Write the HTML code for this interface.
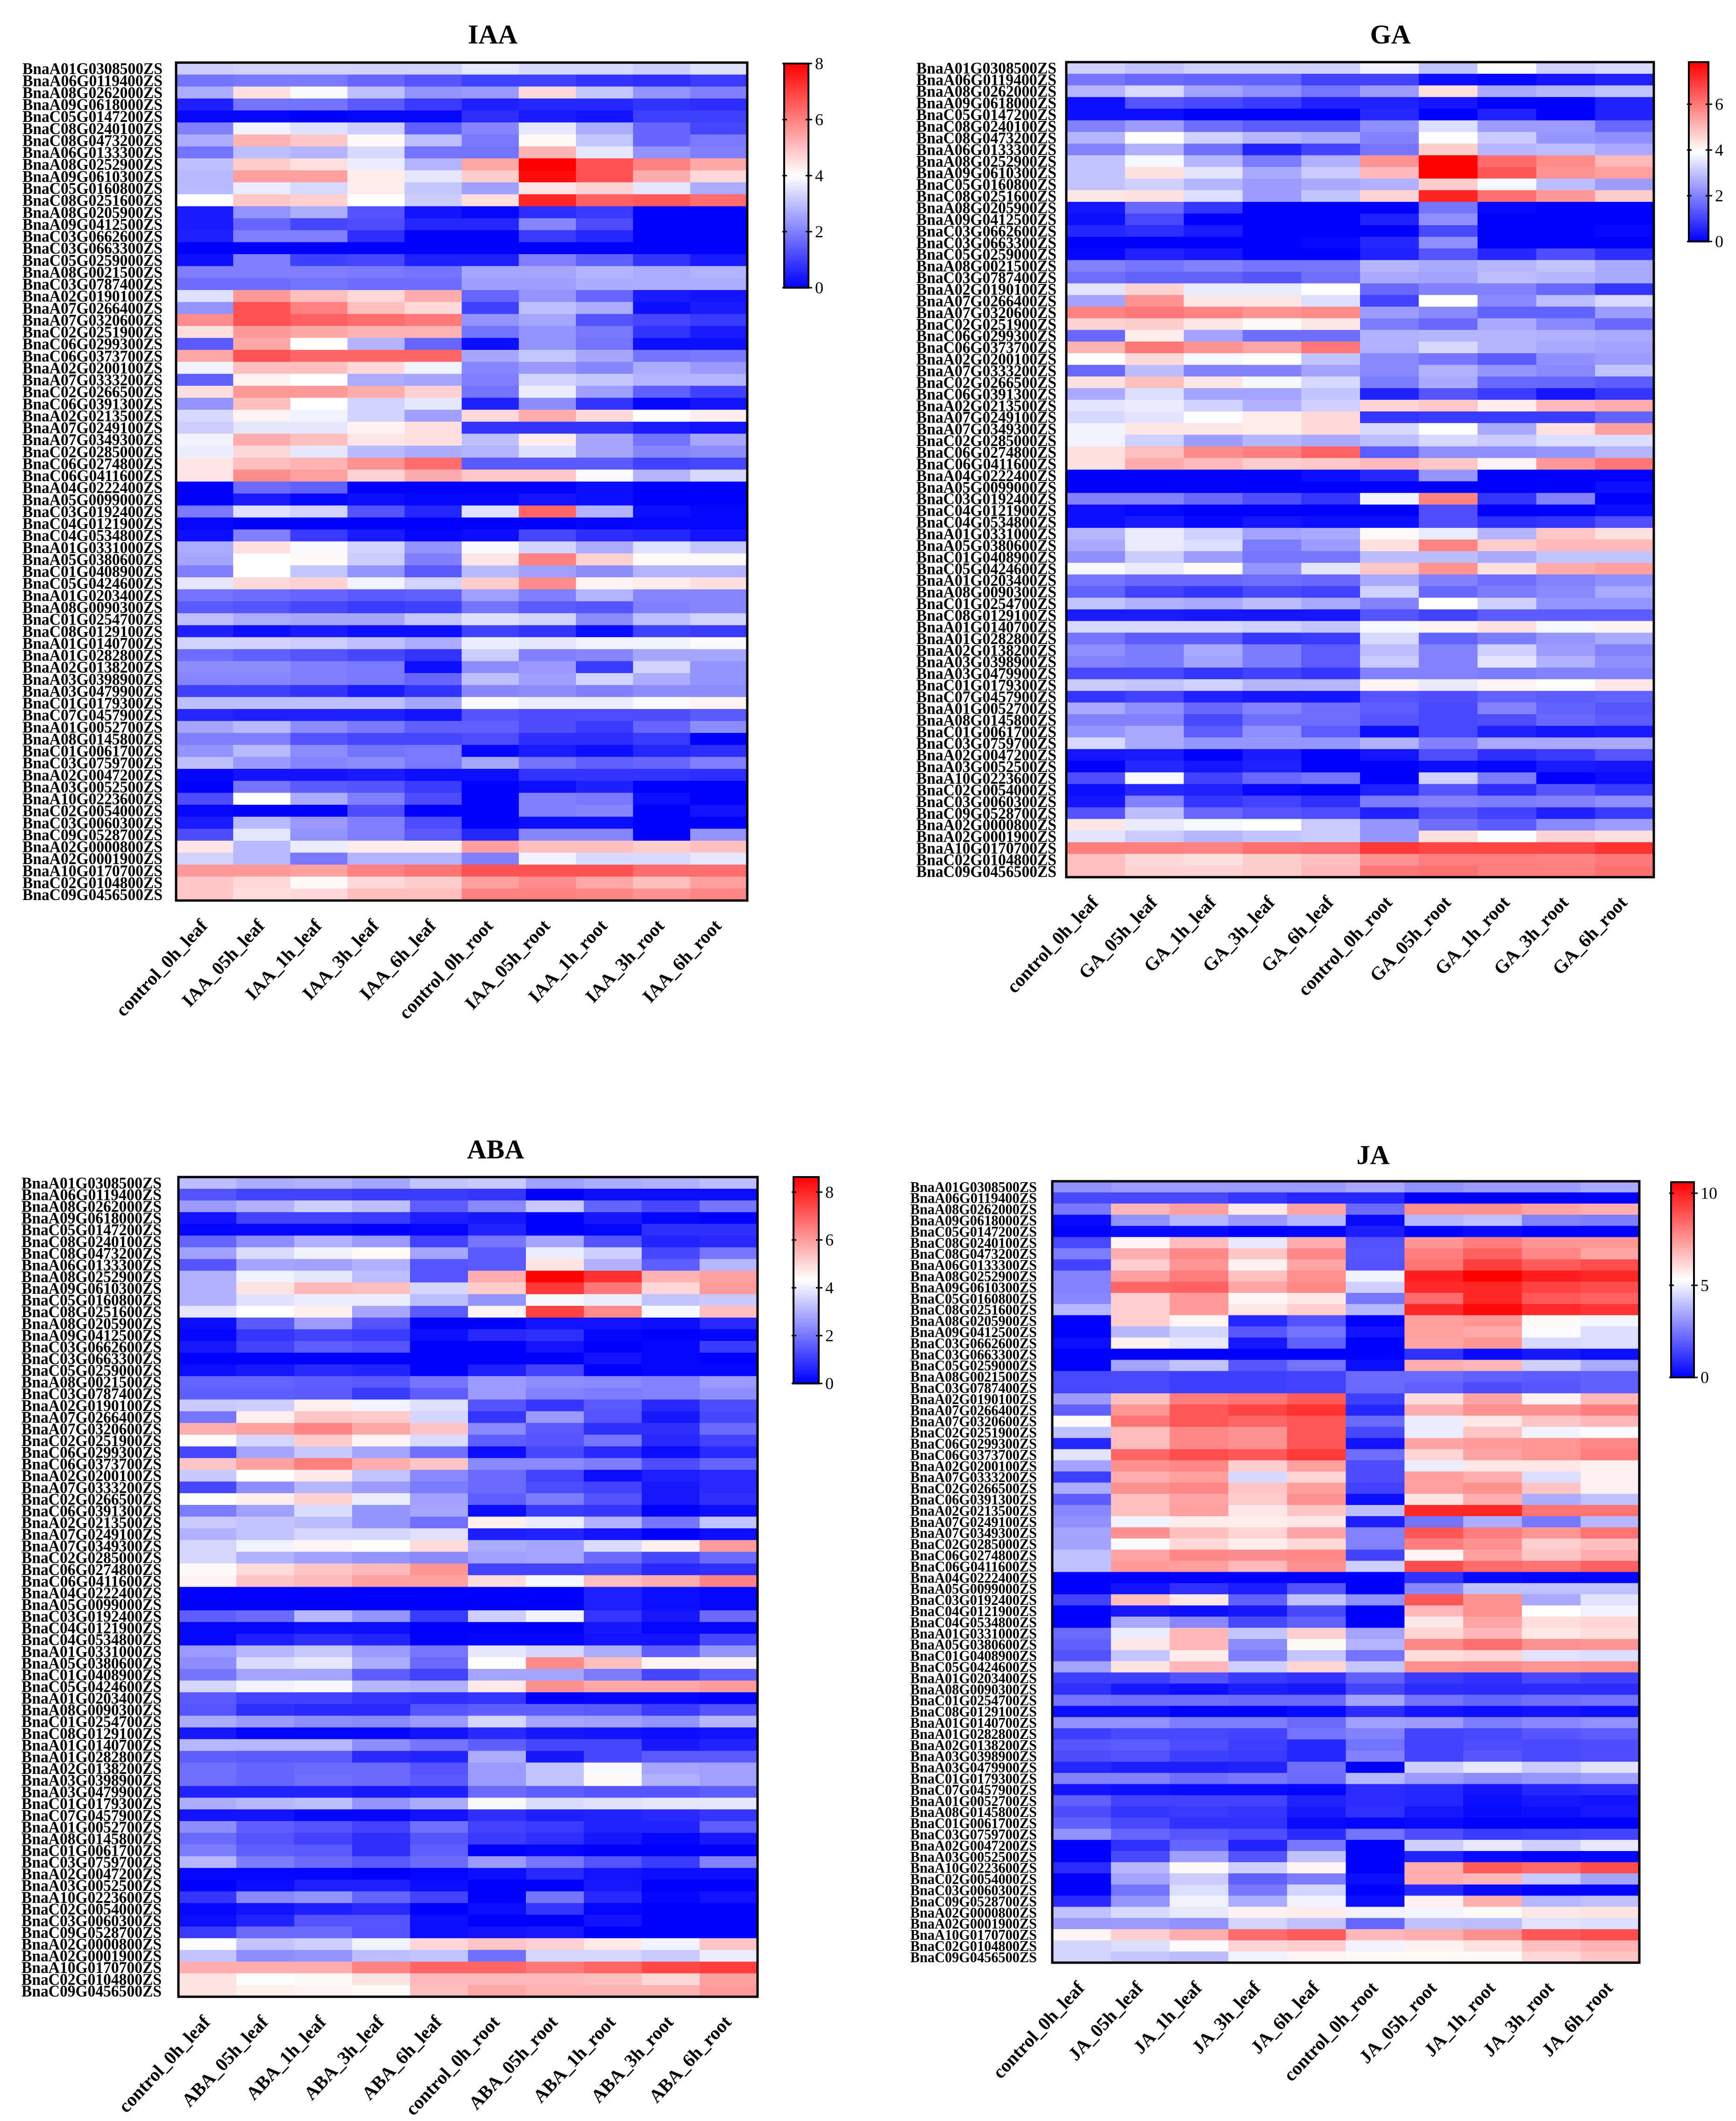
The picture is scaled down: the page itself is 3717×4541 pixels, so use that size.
<!DOCTYPE html>
<html><head><meta charset="utf-8"><style>html,body{margin:0;padding:0;background:#fff}svg{display:block}</style></head>
<body>
<svg id="chart" xmlns="http://www.w3.org/2000/svg" width="3717" height="4541" viewBox="0 0 3717 4541"><rect width="3717" height="4541" fill="#fff"/></svg>
<script>
const genes=["BnaA01G0308500ZS","BnaA06G0119400ZS","BnaA08G0262000ZS","BnaA09G0618000ZS","BnaC05G0147200ZS","BnaC08G0240100ZS","BnaC08G0473200ZS","BnaA06G0133300ZS","BnaA08G0252900ZS","BnaA09G0610300ZS","BnaC05G0160800ZS","BnaC08G0251600ZS","BnaA08G0205900ZS","BnaA09G0412500ZS","BnaC03G0662600ZS","BnaC03G0663300ZS","BnaC05G0259000ZS","BnaA08G0021500ZS","BnaC03G0787400ZS","BnaA02G0190100ZS","BnaA07G0266400ZS","BnaA07G0320600ZS","BnaC02G0251900ZS","BnaC06G0299300ZS","BnaC06G0373700ZS","BnaA02G0200100ZS","BnaA07G0333200ZS","BnaC02G0266500ZS","BnaC06G0391300ZS","BnaA02G0213500ZS","BnaA07G0249100ZS","BnaA07G0349300ZS","BnaC02G0285000ZS","BnaC06G0274800ZS","BnaC06G0411600ZS","BnaA04G0222400ZS","BnaA05G0099000ZS","BnaC03G0192400ZS","BnaC04G0121900ZS","BnaC04G0534800ZS","BnaA01G0331000ZS","BnaA05G0380600ZS","BnaC01G0408900ZS","BnaC05G0424600ZS","BnaA01G0203400ZS","BnaA08G0090300ZS","BnaC01G0254700ZS","BnaC08G0129100ZS","BnaA01G0140700ZS","BnaA01G0282800ZS","BnaA02G0138200ZS","BnaA03G0398900ZS","BnaA03G0479900ZS","BnaC01G0179300ZS","BnaC07G0457900ZS","BnaA01G0052700ZS","BnaA08G0145800ZS","BnaC01G0061700ZS","BnaC03G0759700ZS","BnaA02G0047200ZS","BnaA03G0052500ZS","BnaA10G0223600ZS","BnaC02G0054000ZS","BnaC03G0060300ZS","BnaC09G0528700ZS","BnaA02G0000800ZS","BnaA02G0001900ZS","BnaA10G0170700ZS","BnaC02G0104800ZS","BnaC09G0456500ZS"];
const iaaConds=["control_0h_leaf","IAA_05h_leaf","IAA_1h_leaf","IAA_3h_leaf","IAA_6h_leaf","control_0h_root","IAA_05h_root","IAA_1h_root","IAA_3h_root","IAA_6h_root"];
const gaConds=["control_0h_leaf","GA_05h_leaf","GA_1h_leaf","GA_3h_leaf","GA_6h_leaf","control_0h_root","GA_05h_root","GA_1h_root","GA_3h_root","GA_6h_root"];
const abaConds=["control_0h_leaf","ABA_05h_leaf","ABA_1h_leaf","ABA_3h_leaf","ABA_6h_leaf","control_0h_root","ABA_05h_root","ABA_1h_root","ABA_3h_root","ABA_6h_root"];
const jaConds=["control_0h_leaf","JA_05h_leaf","JA_1h_leaf","JA_3h_leaf","JA_6h_leaf","control_0h_root","JA_05h_root","JA_1h_root","JA_3h_root","JA_6h_root"];
const iaaTicks=[0,2,4,6,8];
const gaTicks=[0,2,4,6];
const abaTicks=[0,2,4,6,8];
const jaTicks=[0,5,10];
const iaaValues=[
[3.2,3.3,3.3,3.3,3.3,3.6,3.4,3.4,3.2,3.5],[1.8,1.9,1.9,1.6,1.3,1.0,1.0,0.8,0.7,0.9],[2.7,4.5,3.9,3.0,2.3,2.4,4.6,3.1,2.3,2.0],[0.5,1.8,1.8,1.4,0.9,0.5,0.6,0.6,0.8,0.7],[0.1,0.1,0,0.1,0.1,0.7,0.4,0.3,1.0,1.0],
[2.0,3.8,3.5,3.2,1.5,2.1,3.6,2.7,1.6,1.1],[2.7,5.2,4.9,4.1,3.0,1.9,4.1,3.1,1.6,1.9],[1.8,3.0,2.8,3.4,1.8,1.8,5.2,3.6,2.3,2.0],[3.0,4.8,4.5,3.7,2.8,5.4,8.0,6.7,6.0,5.4],[2.9,5.5,5.5,4.3,3.6,4.8,7.8,6.7,5.3,4.6],
[2.9,3.7,3.4,4.3,3.1,2.5,4.4,4.7,3.6,2.7],[4.0,4.9,4.7,4.0,3.2,4.5,7.4,6.5,6.6,6.3],[0.4,2.3,2.7,1.3,0.3,0.1,0.7,0.9,0,0],[0.4,1.6,1.1,1.2,0.6,0.6,2.1,1.2,0,0],[0.5,2.0,2.0,0.7,0,0,0.9,0.6,0,0],
[0,0,0,0,0,0,0,0,0,0],[0.2,2.0,1.0,1.1,0.5,0.5,2.0,1.5,0.8,0.4],[2.0,2.0,2.0,1.9,1.8,2.6,2.6,2.8,2.7,2.8],[1.7,1.7,1.8,1.7,1.7,2.5,2.5,2.7,2.7,2.7],[3.5,5.6,5.0,4.6,5.3,1.6,2.3,1.6,0.4,0.3],
[2.3,6.7,6.0,5.0,4.6,1.0,3.0,2.7,0.2,0.4],[5.8,6.7,6.5,6.3,6.1,2.3,2.6,1.3,1.1,0.9],[4.5,5.6,5.4,5.2,5.2,1.8,2.3,1.9,0.8,0.4],[1.4,5.4,4.0,2.8,1.6,0.2,2.3,1.8,0.2,0.2],[5.4,6.7,6.4,6.4,6.4,2.6,3.1,2.6,1.8,1.9],
[3.8,5.0,5.0,4.6,3.8,2.1,2.4,2.1,2.7,2.4],[1.5,4.2,4.0,2.7,2.6,2.0,3.3,3.1,2.8,2.8],[4.5,5.6,5.6,5.3,4.7,1.8,3.7,2.5,1.5,1.0],[2.3,5.0,4.0,3.3,3.6,0.5,2.2,0.8,0.1,0.3],[3.4,4.2,3.8,3.3,2.5,4.6,5.3,4.6,4.0,4.3],
[3.2,3.6,3.6,4.2,4.5,0.8,0.8,0.8,0.4,0.3],[3.8,5.3,5.0,4.4,4.5,3.0,4.3,2.6,1.8,2.6],[3.7,4.6,3.6,2.9,2.7,2.8,3.5,2.6,2.1,2.2],[4.4,5.0,5.2,5.7,6.3,1.4,1.4,1.4,1.0,1.1],[4.4,5.8,5.5,4.7,5.3,4.9,4.9,3.9,2.8,3.4],
[0,1.7,1.5,0,0,0,0,0.2,0,0],[0,0.4,0.1,0.2,0.1,0.1,0.3,0.2,0,0],[1.9,3.5,3.3,1.3,0.6,3.5,6.4,2.8,0.2,0.1],[0.1,0,0,0,0,0,0,0.1,0.1,0.1],[0.2,2.0,0.9,0.4,0.1,0.2,1.1,0.7,0.6,0.3],
[2.7,4.5,3.9,3.3,2.3,3.9,3.3,2.7,3.5,3.1],[2.6,4.0,4.1,3.2,2.0,4.4,6.0,4.7,4.1,4.1],[2.0,4.0,3.1,2.3,1.4,2.9,2.5,2.2,2.8,2.8],[3.6,4.6,4.7,3.8,3.3,4.8,5.8,4.2,4.3,4.5],[1.8,1.7,1.6,1.4,1.5,2.5,2.0,2.8,2.1,2.1],
[1.4,1.3,1.1,0.9,1.0,1.8,1.4,1.3,2.0,2.1],[3.0,2.7,2.6,2.6,3.1,3.5,3.3,2.2,3.0,3.3],[0.5,0.2,0.4,0.2,0.2,1.0,0.8,0.2,1.0,0.9],[3.3,3.3,3.2,3.0,2.7,3.7,3.6,3.8,3.8,3.9],[1.7,1.5,1.3,1.1,0.8,3.2,2.0,2.1,2.6,2.6],
[2.2,2.2,2.0,1.9,0.2,2.2,2.4,0.9,3.3,2.3],[2.1,2.1,2.0,1.9,1.6,3.0,2.5,3.3,2.7,2.3],[1.0,1.0,0.8,0.4,0.8,2.1,2.2,2.0,2.2,2.2],[3.0,3.0,3.0,3.0,2.6,3.9,3.7,3.7,3.9,4.2],[0.6,0.5,0.5,0.5,0.3,1.3,1.2,1.2,1.2,1.4],
[2.6,2.9,2.2,1.9,1.5,1.5,1.2,0.9,1.6,2.2],[2.0,2.0,1.3,1.1,1.1,1.2,0.7,0.7,0.9,0],[2.3,2.9,2.2,1.8,1.9,0.1,0.4,0.2,0.6,0.7],[3.0,2.4,2.1,2.2,1.9,2.6,1.8,1.5,1.6,2.0],[0.1,0.3,0.3,0.4,0.2,0.2,0.8,0.8,0.8,0.7],
[0,1.8,1.4,1.3,0.9,0,0.2,0.5,0,0],[1.2,4.0,2.7,2.0,1.2,0,2.0,1.9,0.2,0],[0.1,0,0,1.2,0,0,2.0,2.1,0,0.3],[0.4,2.9,2.4,2.0,1.2,0,0.2,0.2,0,0],[1.2,3.6,2.3,2.0,1.4,0.6,2.1,2.1,0,2.3],
[4.4,2.9,3.7,4.3,4.3,5.5,5.0,5.0,4.8,5.0],[3.3,2.9,1.9,2.8,2.8,2.0,3.8,3.4,3.4,3.6],[5.6,5.6,5.5,6.0,6.2,6.7,6.7,6.7,6.3,6.3],[4.9,4.6,4.1,4.6,4.8,5.5,5.8,5.4,5.0,5.5],[4.9,4.5,4.6,5.0,5.0,6.0,6.0,5.9,5.7,5.9]];
const gaValues=[
[3.2,3.0,3.2,3.2,3.2,3.7,3.0,3.9,3.2,3.3],[1.8,1.6,1.5,1.5,1.0,1.0,0.2,0.1,0.3,0.5],[2.8,3.3,2.5,2.2,1.8,2.4,4.4,2.6,2.8,3.0],[0.2,1.3,1.1,0.9,0.5,0.5,0.3,0,0,0.5],[0.2,0.2,0,0,0,0.6,0,0.5,0,0.5],
[2.0,2.4,1.7,1.4,1.4,2.2,3.4,2.4,2.4,1.6],[2.8,3.9,3.2,2.8,2.6,2.0,3.9,3.1,2.3,2.2],[2.0,2.7,1.7,0.5,1.0,1.8,4.7,2.8,2.9,2.6],[3.0,3.8,2.8,1.9,2.7,5.6,7.8,6.2,5.7,5.0],[3.0,4.4,3.5,2.6,3.1,5.0,7.8,6.5,5.6,5.4],
[3.0,3.2,2.8,2.4,2.6,2.7,4.7,3.8,2.9,2.4],[4.3,4.4,3.4,2.4,3.0,4.6,7.3,6.1,5.5,4.7],[0.3,1.6,0.8,0,0,0,1.8,0.1,0,0],[0.2,1.1,0,0,0,0.5,2.2,0,0,0],[0.6,0.7,0.4,0,0,0,1.1,0,0,0.1],
[0,0,0,0,0.1,0.6,2.2,0,0,0],[0.1,0.5,0.3,0,0,0.5,1.3,0.6,1.2,0.7],[2.0,1.8,2.0,1.8,1.8,2.8,2.6,2.8,3.0,2.6],[1.7,1.5,1.5,1.3,1.7,2.6,2.5,2.9,2.8,2.6],[3.5,4.6,3.6,3.6,3.9,1.6,2.0,2.0,1.6,0.8],
[2.5,5.6,4.3,4.3,3.4,1.0,3.9,2.1,2.9,3.3],[5.8,6.0,5.8,5.6,5.7,2.4,2.1,1.5,1.5,2.4],[4.6,4.7,4.3,4.0,4.3,1.9,1.6,2.6,2.1,1.6],[1.6,4.2,2.5,1.7,1.7,2.7,2.8,2.8,2.7,2.6],[5.1,6.0,5.6,5.3,6.0,2.7,3.3,2.8,2.6,2.5],
[3.9,4.5,3.8,3.9,3.0,2.1,1.8,1.4,2.2,2.4],[1.6,2.9,2.0,2.0,2.5,2.1,2.7,2.3,2.1,3.0],[4.4,4.9,4.3,3.8,3.3,1.9,2.6,1.6,1.6,1.4],[2.6,3.4,2.5,2.5,3.0,0.5,1.3,0.9,0.3,0.8],[3.5,3.6,3.2,2.7,3.2,4.6,4.8,4.2,5.0,5.2],
[3.3,3.5,3.9,4.2,4.5,0.8,0.9,0.9,0.9,1.5],[3.7,4.3,4.3,4.2,4.5,3.3,3.9,2.6,4.4,5.4],[3.7,3.2,2.4,2.8,2.6,2.9,3.3,3.1,3.4,3.4],[4.4,4.9,5.7,5.9,6.3,1.4,2.2,2.2,2.3,2.8],[4.4,5.2,5.0,4.7,4.8,5.0,4.8,4.1,5.5,6.0],
[0,0,0,0,0.2,0.6,2.3,0,0,0],[0,0,0,0,0,0,0,0,0,0.2],[2.0,2.0,1.6,1.2,0.8,3.7,5.8,0.8,2.0,0],[0.2,0.1,0,0,0,0,1.2,0,0,0.2],[0.2,0.4,0.1,0.3,0.2,0.2,1.2,0.7,0.8,1.2],
[2.8,3.6,3.2,2.5,2.6,4.0,3.6,2.8,4.8,4.4],[2.6,3.6,3.4,1.9,2.4,4.4,5.8,4.7,5.0,5.0],[2.2,3.1,2.4,1.8,1.8,2.9,2.9,2.6,3.0,3.0],[3.8,3.6,4.0,2.3,3.5,4.8,5.6,4.4,5.2,5.4],[1.8,1.6,1.6,1.7,1.6,2.6,2.0,1.7,2.0,2.2],
[1.5,1.0,0.8,1.1,1.0,3.2,1.6,1.9,2.1,2.6],[3.0,2.7,2.6,2.9,2.6,2.0,3.9,3.2,2.3,2.3],[0.4,0.4,0.3,0.3,0.3,1.3,1.0,1.4,1.4,1.4],[3.3,3.3,3.3,3.2,3.0,3.8,4.1,4.4,3.8,4.1],[1.8,1.4,1.4,0.8,0.9,3.3,1.5,1.9,2.3,2.6],
[2.2,1.9,2.6,1.9,1.4,2.9,2.0,3.2,2.4,2.0],[2.0,1.9,2.5,1.9,1.4,3.1,2.0,3.5,2.7,2.2],[1.1,1.1,0.8,1.0,0.8,2.0,2.0,1.9,2.0,2.0],[3.1,3.0,3.2,2.8,2.8,4.1,3.6,4.1,3.9,4.3],[0.8,1.0,0.5,0.3,0.3,1.3,1.2,1.5,1.4,1.5],
[2.6,2.2,1.6,2.0,1.7,1.4,1.1,2.0,1.5,1.3],[2.0,2.0,1.1,1.7,1.7,1.3,1.1,1.2,1.6,1.4],[2.3,2.6,1.4,2.2,1.4,0.2,1.1,0.5,0.3,0.4],[3.3,2.6,2.3,2.3,2.3,2.7,2.0,2.6,2.6,2.6],[0.3,0.4,0,0.4,0,0.3,1.2,0.7,0.9,1.3],
[0,0.6,0.3,0.5,0,0,0.2,0.1,0.4,0.3],[1.2,3.8,1.0,1.6,1.8,0,3.2,1.9,0,0.2],[0.2,0.6,0.5,0.1,0,0.5,1.3,0.7,1.3,0.9],[0.3,2.0,0.8,1.0,0.7,1.9,2.0,1.9,2.0,2.2],[1.3,2.9,1.6,1.3,1.2,0.5,1.3,1.0,0.5,0.9],
[4.3,3.6,3.8,3.9,3.1,2.3,1.7,1.4,2.1,2.4],[3.5,3.1,2.8,3.0,3.1,2.3,4.4,3.9,4.6,4.4],[5.9,5.9,5.8,6.1,6.2,7.0,6.8,6.8,6.8,7.1],[4.9,4.5,4.4,4.7,4.9,5.6,5.9,5.9,5.8,6.0],[4.9,4.6,4.6,4.7,5.0,6.0,6.1,5.9,5.9,6.1]];
const abaValues=[
[3.2,2.9,3.0,2.8,3.3,3.4,2.7,2.9,3.0,3.2],[1.4,1.1,1.1,1.0,1.0,0.9,0,0.2,0.2,0.2],[2.6,3.0,3.5,3.2,1.6,2.3,3.4,1.7,1.2,2.0],[0.3,1.1,1.1,1.0,0.5,0.4,0,0.4,0.1,0],[0.1,0.1,0.1,0,0.1,0.6,0,0.1,0.8,0.8],
[1.7,2.4,3.0,2.6,1.1,2.0,2.8,1.4,0.6,0.7],[2.7,3.7,4.1,4.4,2.8,1.5,4.0,3.5,1.2,2.0],[1.4,2.8,2.7,3.0,1.4,1.5,4.8,3.0,1.6,3.1],[3.0,4.1,3.9,3.2,1.4,5.7,8.6,7.8,5.6,5.9],[3.0,4.8,5.5,5.4,3.6,5.2,7.7,6.6,5.0,6.0],
[3.0,3.8,4.0,4.0,3.2,2.5,4.2,4.0,3.3,3.4],[3.9,4.3,4.6,2.8,1.5,4.5,7.5,6.3,4.2,5.4],[0.2,1.5,2.6,1.4,0,0,0.3,0.3,0.2,0.7],[0.1,0.9,1.1,1.0,0.2,0.7,0.8,0.1,0,0.1],[0.4,1.1,1.6,1.4,0,0,0.3,0,0.1,1.0],
[0,0,0,0,0,0,0,0.3,0.1,0],[0.2,0.4,0.7,0.6,0,0.5,1.1,0,0.1,0.1],[1.7,1.7,1.6,1.5,2.0,2.6,2.4,2.3,2.2,2.6],[1.6,1.6,1.5,1.0,1.6,2.6,2.2,2.1,2.2,2.4],[3.4,3.5,4.6,4.1,3.8,1.4,0.9,1.5,0.7,1.3],
[2.0,4.6,5.3,5.2,3.6,0.9,2.6,1.4,0.4,1.2],[5.7,5.9,6.4,5.8,5.3,2.3,1.5,0.8,0.8,1.8],[4.4,3.6,5.2,4.5,3.7,1.6,1.4,2.0,0.7,1.1],[1.2,2.8,3.4,2.8,1.9,0.2,1.2,0.7,0.2,0.7],[5.3,5.9,6.5,5.7,5.3,2.3,2.3,2.1,1.3,1.7],
[3.4,4.3,4.7,3.3,2.3,1.8,1.1,0.2,0.5,0.7],[1.2,2.4,3.1,2.6,2.1,1.8,1.3,1.1,0.4,0.7],[4.3,4.6,5.1,4.0,2.7,1.6,2.1,1.4,0.4,0.8],[2.1,2.7,3.7,2.5,2.8,0.2,1.0,0.9,0,0.2],[3.4,3.3,3.2,2.5,1.9,4.6,4.0,3.0,2.0,3.3],
[3.0,3.3,3.6,3.6,3.8,0.5,0.6,0.3,0,0.2],[3.6,4.1,4.5,4.3,4.9,2.9,2.8,3.7,4.6,6.0],[3.6,3.0,2.7,2.5,2.3,2.7,2.8,1.8,1.2,1.8],[4.4,4.9,5.3,5.5,6.1,1.1,1.1,1.2,0.7,0.8],[4.5,5.3,5.5,5.9,5.9,4.9,4.2,5.4,5.7,6.4],
[0,0,0,0,0,0,0,0.5,0.2,0.1],[0,0,0,0,0,0,0,0.5,0.2,0.1],[1.6,1.8,3.1,2.5,1.0,3.5,4.1,0.9,0.4,1.8],[0.1,0.1,0.2,0.2,0,0,0,0.4,0.1,0.1],[0.1,0.5,0.8,0.6,0,0.1,0.1,0.3,0.3,1.2],
[2.6,3.1,3.4,2.6,2.0,3.9,3.6,2.9,1.6,2.5],[2.4,3.7,3.9,2.9,1.8,4.3,6.3,5.4,4.5,4.5],[2.0,2.8,2.8,1.6,1.1,2.8,2.8,2.1,1.2,1.6],[3.6,4.1,4.2,3.1,3.0,4.7,6.2,5.8,5.8,6.0],[1.5,1.1,1.1,0.9,0.8,0.9,0,0.1,0.1,0],
[1.4,0.8,0.7,0.7,1.4,1.6,1.6,1.5,1.0,1.4],[2.9,2.6,2.4,2.3,2.6,3.6,2.8,2.7,2.5,3.1],[0.4,0.1,0.1,0.1,0.3,0.7,0.4,0.3,0.2,0.3],[3.1,3.1,3.1,2.4,2.0,1.6,1.2,1.2,0.4,0.6],[1.6,1.5,1.5,0.7,0.6,2.9,0.4,1.2,1.5,1.5],
[1.9,1.7,1.8,1.8,1.4,2.6,3.3,4.2,2.8,2.7],[1.9,1.7,1.9,1.8,1.5,2.6,3.3,4.4,3.0,2.7],[0.6,0.6,0.6,0.4,0.5,1.8,1.6,1.4,1.4,1.6],[2.9,3.1,3.2,2.5,2.9,4.2,3.7,3.8,3.9,3.9],[0.3,0.3,0.1,0.1,0.3,0.8,0.5,0.6,0.7,0.9],
[2.4,1.6,1.4,1.1,1.9,1.1,1.0,0.6,0.6,1.6],[1.8,1.4,1.1,0.8,1.4,1.0,0.8,0.4,0.1,0.4],[2.1,1.6,1.5,0.8,1.6,0,0.1,0,0,0],[3.1,2.1,1.8,1.5,1.8,2.6,2.0,1.4,1.0,2.2],[0.1,0.1,0.1,0,0.1,0.2,0.7,0.3,0.2,0.2],
[0,0.2,0.5,0.5,0.2,0,0,0.4,0,0],[0.9,2.3,2.5,1.7,1.1,0,2.0,0.7,0.1,0.3],[0.1,0.3,0.5,0.7,0,0.2,0.9,0.1,0,0],[0.2,0.6,1.4,1.4,0.2,0,0,0.3,0,0],[1.0,1.8,1.8,1.4,0.2,0.3,0.4,0,0,0],
[4.3,3.3,3.5,4.1,5.0,5.3,5.1,4.7,4.1,5.3],[3.3,2.4,2.5,3.2,3.3,1.9,3.6,3.6,3.4,4.0],[5.7,5.7,5.7,6.4,6.9,6.9,6.6,6.9,7.4,7.6],[4.8,4.3,4.4,4.8,5.5,5.5,5.5,5.4,5.0,5.9],[4.8,4.6,4.5,4.4,5.4,5.8,5.6,5.6,5.6,6.0]];
const jaValues=[
[3.0,3.2,3.2,3.2,3.2,3.5,3.0,3.2,3.2,3.5],[1.5,1.5,1.5,1.1,0.8,0.8,0,0,0,0],[2.5,6.8,7.3,5.8,7.2,2.2,7.6,7.6,7.2,7.0],[0.2,3.0,3.8,3.2,3.8,0.2,3.8,4.0,2.7,2.6],[0,0.2,0.2,0,0.1,0.6,0,0.2,0,0],
[1.5,5.5,6.7,4.8,7.0,1.7,7.5,8.0,7.5,7.5],[2.6,7.0,7.8,6.5,7.8,1.8,8.0,8.6,7.8,7.2],[1.4,6.3,7.5,5.6,7.2,1.7,8.2,9.3,8.7,9.0],[2.7,7.3,8.0,6.6,7.6,5.0,10.0,10.6,10.0,9.8],[2.7,8.5,8.6,7.2,7.8,4.3,9.7,9.8,9.2,9.0],
[2.8,6.3,7.4,5.5,5.8,2.5,8.4,9.8,8.8,8.6],[3.8,6.3,7.4,5.8,6.3,3.8,9.8,10.4,9.7,9.5],[0,6.3,5.5,0.8,1.7,0,7.3,7.5,5.4,5.1],[0,3.8,4.4,1.8,2.4,0.4,7.3,7.1,5.2,4.6],[0.3,5.6,4.8,0.5,2.0,0,7.2,7.5,4.5,4.6],
[0,0,0,0,0,0,1.0,0.2,0.5,0.3],[0,3.4,4.0,1.8,2.4,0.3,7.0,6.8,4.3,3.5],[1.5,1.5,1.3,1.3,1.4,2.2,2.2,2.0,1.9,2.0],[1.5,1.5,1.3,1.3,1.4,2.2,2.0,1.6,1.8,2.0],[3.2,6.6,8.0,8.2,8.7,1.3,6.0,7.2,5.6,6.8],
[2.0,7.5,8.8,9.2,9.6,0.8,7.0,7.6,7.6,8.0],[5.4,8.2,8.8,8.5,8.8,2.2,4.9,5.8,6.5,6.8],[4.0,6.7,7.8,7.6,8.8,1.5,4.9,6.5,5.0,5.2],[0.8,6.7,7.8,7.6,8.8,0.4,7.2,7.4,7.5,7.8],[4.7,8.5,9.0,8.8,9.4,2.3,6.2,7.2,7.5,8.0],
[3.4,7.6,7.8,6.3,7.3,1.6,4.9,5.8,5.8,5.6],[1.3,7.0,7.3,4.5,6.2,1.6,7.3,7.0,4.6,5.6],[3.6,7.6,7.8,6.5,7.3,1.4,7.3,7.6,6.5,5.6],[1.9,6.6,7.2,6.4,7.6,0.3,5.9,7.0,3.6,4.0],[2.8,6.6,7.3,5.8,6.5,3.9,9.8,9.8,8.2,8.2],
[3.0,5.0,5.7,5.7,5.8,0.6,2.4,3.6,2.5,3.8],[3.4,7.6,6.6,6.2,7.2,2.7,8.8,8.0,7.5,8.2],[3.4,5.2,6.1,5.7,6.1,2.7,8.0,7.6,6.3,6.6],[4.0,7.2,7.8,7.7,7.8,1.4,5.5,7.3,6.5,7.0],[4.0,7.4,7.3,6.8,7.6,4.3,9.0,8.4,8.2,8.6],
[0,0,0,0,0,0,1.0,0.2,0.1,0.1],[0,0.4,1.0,0.6,1.7,0,2.8,4.0,4.0,4.0],[1.4,6.7,5.8,2.0,4.0,3.0,8.8,7.6,3.5,4.7],[0,0.5,0.3,0.5,1.5,0,6.8,7.6,5.3,5.0],[0,3.5,2.8,1.5,2.0,0,5.8,7.2,6.0,6.2],
[2.2,4.9,6.8,4.1,6.3,3.4,6.2,6.8,5.8,6.0],[2.0,5.8,6.8,2.9,5.4,3.7,7.8,8.3,7.6,7.5],[1.7,4.1,5.7,2.6,4.1,2.4,6.0,6.2,4.7,4.6],[3.4,5.9,6.8,4.3,6.2,4.1,7.6,7.7,7.5,7.6],[1.3,1.3,1.7,1.2,1.0,2.0,1.2,1.0,1.5,1.3],
[1.0,0.5,0.3,0.6,0.5,1.4,0.9,0.9,0.9,0.9],[2.4,2.3,2.3,2.2,2.2,3.4,2.4,2.1,2.3,2.4],[0.3,0.3,0,0,0.2,0.9,0.4,0.3,0.4,0.3],[3.0,3.0,2.6,2.6,2.2,3.3,3.2,2.6,2.8,3.0],[1.3,1.5,1.5,1.4,2.4,2.7,1.4,1.5,1.8,1.9],
[1.8,1.9,1.6,1.3,0.8,2.4,1.4,1.6,1.5,1.6],[1.6,1.7,1.3,1.2,0.8,2.7,1.4,1.8,1.5,1.6],[0.8,0.6,0.6,0.7,2.3,0,4.3,4.8,4.2,4.7],[2.7,2.7,2.3,2.5,2.2,3.8,3.2,2.9,3.1,3.3],[0.4,0.3,0.2,0.2,0.1,0.9,0.8,0.4,0.8,0.9],
[2.0,1.4,1.4,1.4,0.7,0.9,0.8,0.3,0.5,0.4],[1.6,1.1,1.2,1.1,0.5,1.0,0.5,0.2,0.3,0.5],[2.0,1.5,1.0,1.0,0.2,0.1,0.2,0,0,0],[3.0,2.1,1.8,1.6,0.9,2.4,1.6,1.2,1.3,1.4],[0,1.0,2.1,0.7,2.5,0,4.3,4.8,4.3,4.8],
[0,1.5,3.3,1.7,4.0,0,0.7,0.2,0,0.1],[0.9,3.8,5.4,4.3,5.5,0,7.0,8.7,8.4,9.0],[0,3.4,4.2,2.0,2.6,0.3,7.0,6.8,4.2,3.4],[0,2.4,4.6,2.5,4.4,0,0.8,0.2,0,0],[0.9,3.1,5.0,3.6,5.0,0.3,5.6,7.0,3.8,4.0],
[4.0,4.5,4.8,5.6,5.7,5.0,5.1,5.4,5.8,5.9],[3.2,3.2,3.0,4.4,4.0,2.1,4.0,3.9,4.7,4.6],[5.5,6.3,7.0,8.4,8.7,6.8,7.0,7.6,8.8,9.0],[4.4,4.6,5.2,6.2,6.3,5.0,5.6,5.9,6.6,6.9],[4.4,4.1,3.9,5.0,5.5,5.4,5.4,5.4,6.1,6.5]];

const NS="http://www.w3.org/2000/svg";
const svg=document.getElementById('chart');
function mk(tag,attrs,parent){const e=document.createElementNS(NS,tag);for(const k in attrs)e.setAttribute(k,attrs[k]);(parent||svg).appendChild(e);return e;}
function color(v,max){let t=Math.max(0,Math.min(1,v/max));let r,g,b;
 if(t<0.5){const s=t/0.5;r=Math.round(255*s);g=r;b=255;}else{const s=(t-0.5)/0.5;r=255;g=Math.round(255*(1-s));b=g;}
 return `rgb(${r},${g},${b})`;}
const FONT='"Liberation Serif", serif';
let gid=0;
const panels=[
 {key:'iaa',title:'IAA',values:iaaValues,conds:iaaConds,ticks:iaaTicks,max:8,x0:377,x1:1600,y0:134,y1:1928,labR:348,labW:300,fs:35,cb:[1679,1731,136,616],tx:1055,ty:93},
 {key:'ga',title:'GA',values:gaValues,conds:gaConds,ticks:gaTicks,max:7.84,x0:2283,x1:3541,y0:133,y1:1878,labR:2262,labW:300,fs:35,cb:[3616,3658,133,517],tx:2977,ty:93},
 {key:'aba',title:'ABA',values:abaValues,conds:abaConds,ticks:abaTicks,max:8.63,x0:382,x1:1622,y0:2520,y1:4275,labR:346,labW:300,fs:35,cb:[1699,1753,2520,2962],tx:1061,ty:2480},
 {key:'ja',title:'JA',values:jaValues,conds:jaConds,ticks:jaTicks,max:10.6,x0:2253,x1:3510,y0:2529,y1:4202,labR:2220,labW:271,fs:32,cb:[3578,3627,2531,2949],tx:2940,ty:2492}
];
panels.forEach(p=>{
 const g=mk('g',{});
 
 
 const nR=genes.length,nC=p.conds.length;
 const xS=c=>p.x0+(p.x1-p.x0)*c/nC;
 const yS=r=>p.y0+(p.y1-p.y0)*r/nR;
 const t=mk('text',{x:p.tx,y:p.ty,'text-anchor':'middle','font-family':FONT,'font-weight':'bold','font-size':58},g);
 t.textContent=p.title;
 
 
 p.values.forEach((row,r)=>{row.forEach((v,c)=>{
  const cell=mk('rect',{x:xS(c).toFixed(2),y:yS(r).toFixed(2),width:(xS(c+1)-xS(c)+0.6).toFixed(2),height:(yS(r+1)-yS(r)+0.6).toFixed(2),fill:color(v,p.max)},g);
  
  
 });});
 const frame=mk('rect',{x:p.x0,y:p.y0,width:p.x1-p.x0,height:p.y1-p.y0,fill:'none',stroke:'#000','stroke-width':5},g);
 
 
 genes.forEach((gn,r)=>{
  const lt=mk('text',{x:p.labR-p.labW,y:(yS(r+0.5)+p.fs*0.34).toFixed(1),'font-family':FONT,'font-weight':'bold','font-size':p.fs,textLength:p.labW,lengthAdjust:'spacingAndGlyphs'},g);
  lt.textContent=gn;
  
  
 });
 p.conds.forEach((cn,c)=>{
  const cx=xS(c+0.5)+8,cy=p.y1+56;
  const xt=mk('text',{x:0,y:0,transform:`translate(${cx.toFixed(1)},${cy}) rotate(-47)`,'text-anchor':'end','font-family':FONT,'font-weight':'bold','font-size':40},g);
  xt.textContent=cn;
  
  
 });
 const [bx0,bx1,by0,by1]=p.cb;
 gid++;
 const defs=mk('defs',{},g);
 const lg=mk('linearGradient',{id:'grad'+gid,x1:0,y1:1,x2:0,y2:0},defs);
 mk('stop',{offset:'0','stop-color':'#0000ff'},lg);
 mk('stop',{offset:'0.5','stop-color':'#ffffff'},lg);
 mk('stop',{offset:'1','stop-color':'#ff0000'},lg);
 const bar=mk('rect',{x:bx0,y:by0,width:bx1-bx0,height:by1-by0,fill:`url(#grad${gid})`,stroke:'#000','stroke-width':4},g);
 
 
 const cy=v=>by1-(by1-by0)*v/p.max;
 p.ticks.forEach(tv=>{
  const y=cy(tv);
  const tk=mk('line',{x1:bx1-6,x2:bx1+8,y1:y,y2:y,stroke:'#000','stroke-width':3},g);
  
  
  const tk2=mk('line',{x1:bx0-4,x2:bx0+6,y1:y,y2:y,stroke:'#000','stroke-width':3},g);
  
  
  const tl=mk('text',{x:bx1+14,y:y+12,'font-family':FONT,'font-size':36},g);
  tl.textContent=String(tv);
  
  
 });
});
</script>
</body></html>
